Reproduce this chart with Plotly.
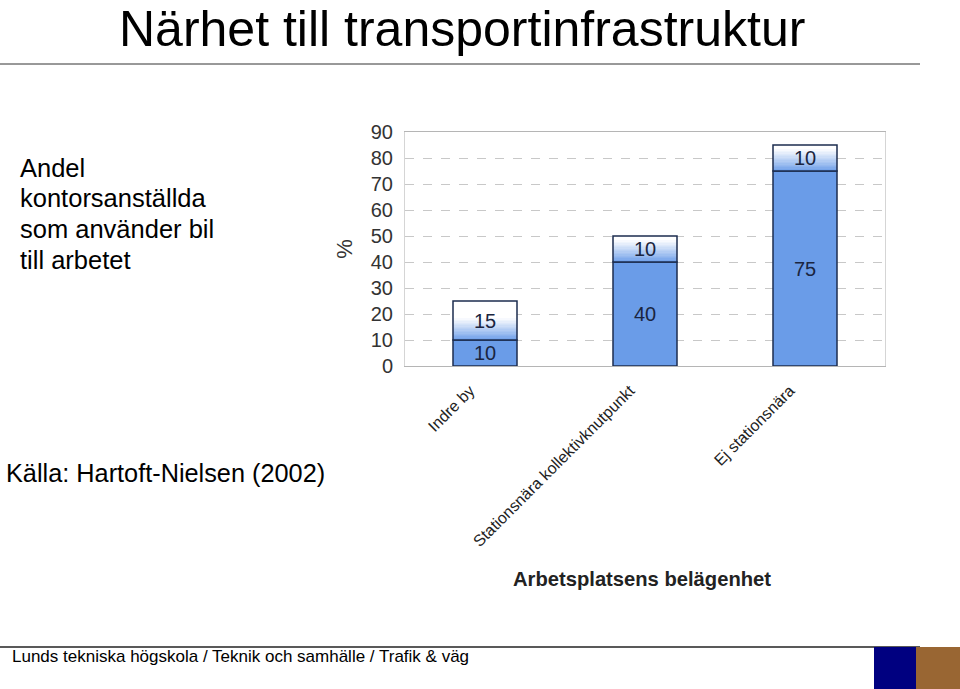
import plotly.graph_objects as go

categories = ["Indre by", "Stationsnära kollektivknutpunkt", "Ej stationsnära"]
base_values = [10, 40, 75]
top_values = [15, 10, 10]
y_ticks = [0, 10, 20, 30, 40, 50, 60, 70, 80, 90]
left_lines = ["Andel", "kontorsanställda", "som använder bil", "till arbetet"]

W, H = 960, 689
def px(x):
    return x / W
def py(y):
    return 1 - y / H

BLUE = (106, 156, 232)
BLUE_HEX = "rgb(%d,%d,%d)" % BLUE
EDGE = "#1c2d4f"
FONT = "Liberation Sans, Arial, sans-serif"
LABEL_FONT = dict(size=20, color="#1a2540", family=FONT)

fig = go.Figure()
# blue base segment
fig.add_trace(go.Bar(
    x=categories, y=base_values, base=[0] * len(base_values),
    text=[str(v) for v in base_values],
    textposition="inside", insidetextanchor="middle", constraintext="none",
    textfont=LABEL_FONT,
    marker=dict(color=BLUE_HEX, line=dict(color=EDGE, width=1.5)),
    showlegend=False, hoverinfo="skip",
))
# white top segment
fig.add_trace(go.Bar(
    x=categories, y=top_values, base=base_values,
    marker=dict(color="white", line=dict(width=0)),
    showlegend=False, hoverinfo="skip",
))
# gradient (blue fading to white) at bottom of the top segment
steps = 16
grad_px = 22.0  # gradient height in pixels
px_per_unit = (366 - 132) / 90.0
grad_units = grad_px / px_per_unit
for i in range(steps):
    t = i / steps
    col = tuple(int(round(c + (255 - c) * (t ** 0.9))) for c in BLUE)
    h = [min(grad_units, tv) / steps for tv in top_values]
    b = [bv + hh * i for bv, hh in zip(base_values, h)]
    fig.add_trace(go.Bar(
        x=categories, y=h, base=b,
        marker=dict(color="rgb(%d,%d,%d)" % col, line=dict(width=0)),
        showlegend=False, hoverinfo="skip",
    ))
# outline + labels of top segment
fig.add_trace(go.Bar(
    x=categories, y=top_values, base=base_values,
    text=[str(v) for v in top_values],
    textposition="inside", insidetextanchor="middle", constraintext="none",
    textfont=LABEL_FONT,
    marker=dict(color="rgba(0,0,0,0)", line=dict(color=EDGE, width=1.5)),
    showlegend=False, hoverinfo="skip",
))

fig.update_layout(
    width=W, height=H, barmode="overlay", bargap=0.6,
    margin=dict(l=0, r=0, t=0, b=0, autoexpand=False),
    paper_bgcolor="white", plot_bgcolor="white",
    font=dict(family=FONT, color="black"),
    xaxis=dict(
        domain=[px(405), px(885)], anchor="y", automargin=False,
        tickangle=-45, tickfont=dict(size=16, color="#222", family=FONT),
        showline=True, linecolor="#b5b5b5", linewidth=1, mirror=True,
        ticks="", showgrid=False, ticklabelstandoff=8, ticklabelshift=-15,
    ),
    yaxis=dict(
        domain=[py(366), py(132)], range=[0, 90], tickvals=y_ticks,
        automargin=False,
        tickfont=dict(size=20, color="#333", family=FONT),
        showgrid=True, gridcolor="#c8c8c8", griddash="dash", gridwidth=1,
        zeroline=False, showline=True, linecolor="#d5d5d5", mirror=True,
        ticks="", ticklabelstandoff=7,
        title=dict(text="%", font=dict(size=22, color="#333"), standoff=12),
    ),
)

fig.add_annotation(x=px(462), y=py(0), xref="paper", yref="paper",
                   text="Närhet till transportinfrastruktur", showarrow=False,
                   font=dict(size=50, color="black", family=FONT),
                   xanchor="center", yanchor="top", borderpad=0)
fig.add_shape(type="line", xref="paper", yref="paper",
              x0=px(0), x1=px(920), y0=py(64), y1=py(64),
              line=dict(color="#333", width=1))
for line_text, yc in zip(left_lines, [168, 198, 229, 260]):
    fig.add_annotation(x=px(18), y=py(yc), xref="paper", yref="paper",
                       text=line_text, showarrow=False, align="left",
                       font=dict(size=25.5, color="black", family=FONT),
                       xanchor="left", yanchor="middle")
fig.add_annotation(x=px(4), y=py(473), xref="paper", yref="paper",
                   text="Källa: Hartoft-Nielsen (2002)", showarrow=False,
                   font=dict(size=25.3, color="black", family=FONT),
                   xanchor="left", yanchor="middle")
fig.add_annotation(x=px(642), y=py(579), xref="paper", yref="paper",
                   text="<b>Arbetsplatsens belägenhet</b>", showarrow=False,
                   font=dict(size=20.2, color="#222", family=FONT),
                   xanchor="center", yanchor="middle")
fig.add_shape(type="line", xref="paper", yref="paper",
              x0=px(0), x1=px(920), y0=py(647), y1=py(647),
              line=dict(color="#222", width=1.5))
fig.add_annotation(x=px(10), y=py(656), xref="paper", yref="paper",
                   text="Lunds tekniska högskola / Teknik och samhälle / Trafik & väg",
                   showarrow=False,
                   font=dict(size=17, color="black", family=FONT),
                   xanchor="left", yanchor="middle")
fig.add_shape(type="rect", xref="paper", yref="paper",
              x0=px(874), x1=px(916), y0=py(689), y1=py(647),
              fillcolor="#000080", line=dict(width=0))
fig.add_shape(type="rect", xref="paper", yref="paper",
              x0=px(916), x1=px(960), y0=py(689), y1=py(647),
              fillcolor="#996633", line=dict(width=0))

fig.write_html(
    "out.html",
    config={"displayModeBar": False},
    post_script="document.body.style.margin='0';document.body.style.overflow='hidden';",
)
